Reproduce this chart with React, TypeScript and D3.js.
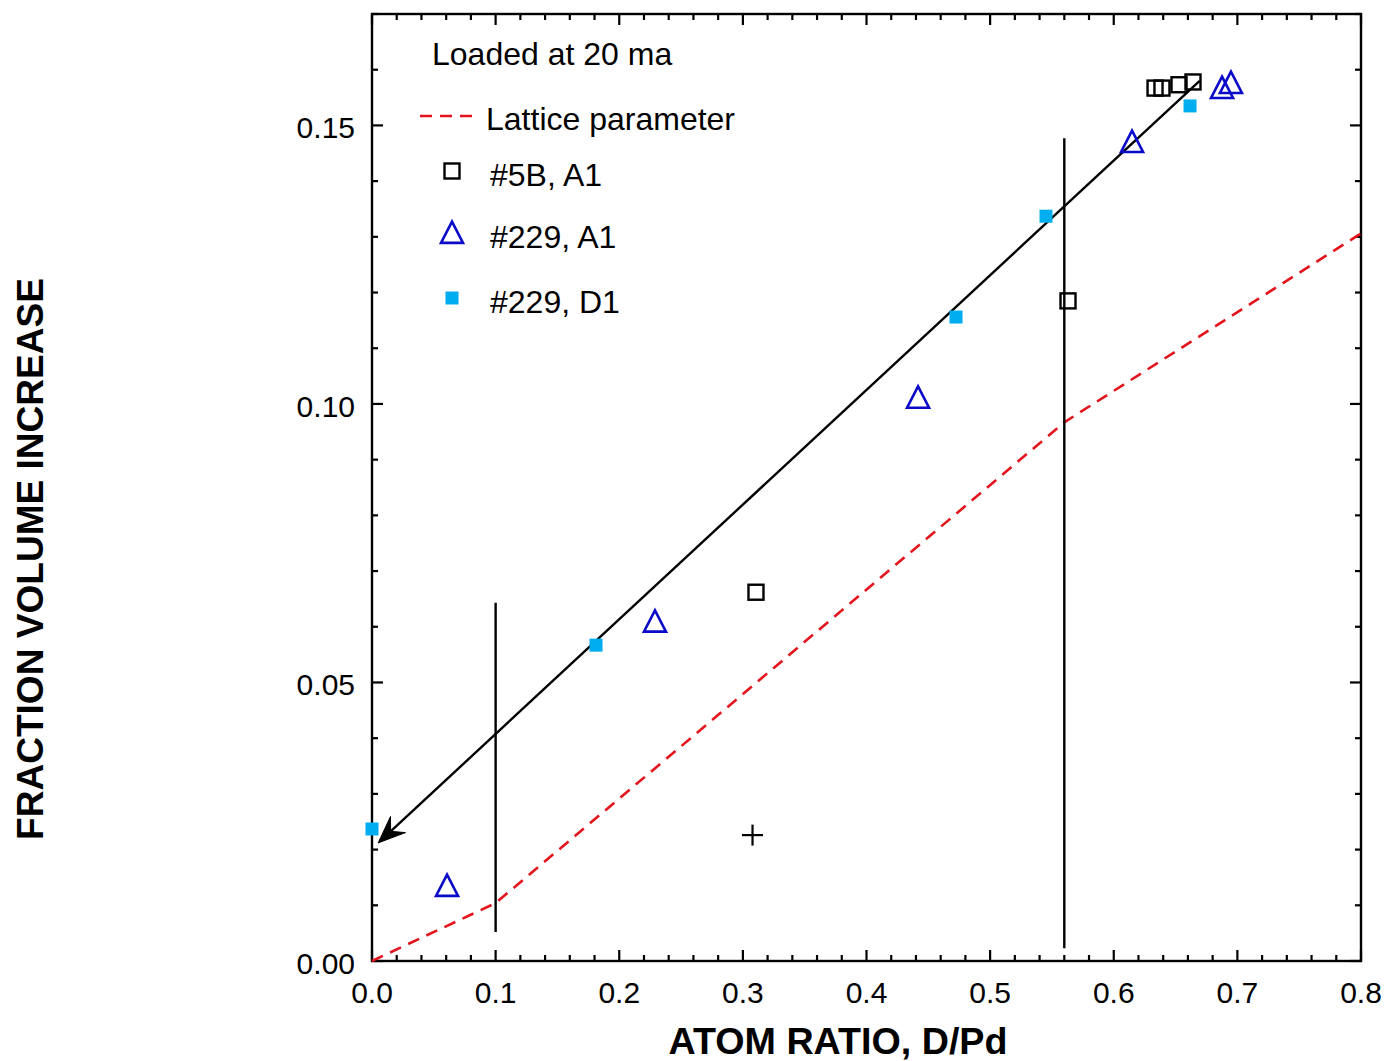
import React from "react";
import * as d3 from "d3";

// ---- data ----
const xTickValues = [0, 0.1, 0.2, 0.3, 0.4, 0.5, 0.6, 0.7, 0.8];
const xTickLabels = ["0.0", "0.1", "0.2", "0.3", "0.4", "0.5", "0.6", "0.7", "0.8"];
const yTickValues = [0, 0.05, 0.1, 0.15];
const yTickLabels = ["0.00", "0.05", "0.10", "0.15"];

const sq5B_x = [0.3106, 0.563, 0.6334, 0.639, 0.6528, 0.6641];
const sq5B_y = [0.0662, 0.1185, 0.1567, 0.1567, 0.1573, 0.1578];

const tri229A1_x = [0.0607, 0.2289, 0.4417, 0.6148, 0.6876, 0.6948];
const tri229A1_y = [0.01346, 0.0609, 0.1011, 0.147, 0.1567, 0.1576];

const cy229D1_x = [0.0, 0.1812, 0.4724, 0.5452, 0.6617];
const cy229D1_y = [0.0237, 0.0567, 0.1156, 0.1337, 0.1535];

const lattice_x = [0, 0.1, 0.56, 0.8];
const lattice_y = [0, 0.0104, 0.0967, 0.1306];

const arrowStart = [0.6695, 0.158];
const arrowTip = [0.005, 0.0212];

const vline_x = [0.1, 0.56];
const vline_y0 = [0.0052, 0.0023];
const vline_y1 = [0.0643, 0.1477];

const plusPoint = [0.3078, 0.0226];

const legendTitle = "Loaded at 20 ma";
const legendLabels = ["Lattice parameter", "#5B, A1", "#229, A1", "#229, D1"];

const FONT = "'Liberation Sans', Arial, Helvetica, sans-serif";
const BLUE = "#0a0ac8";
const CYAN = "#00aeef";
const RED = "#e3141c";

export default function App() {
  const W = 1389;
  const H = 1061;
  const x = d3.scaleLinear().domain([0, 0.8]).range([372, 1361]);
  const y = d3.scaleLinear().domain([0, 0.17]).range([961, 14]);

  const xMinor = d3.range(0, 0.8001, 0.02);
  const yMinor = d3.range(0, 0.1701, 0.01);

  const line = d3
    .line<number>()
    .x((_, i) => x(lattice_x[i]))
    .y((_, i) => y(lattice_y[i]));

  const triPath = (cx: number, cy: number, s: number) => {
    const hw = s / 2;
    return `M${cx},${cy - s * 0.52}L${cx + hw},${cy + s * 0.45}L${cx - hw},${cy + s * 0.45}Z`;
  };

  // arrow
  const sx = x(arrowStart[0]);
  const sy = y(arrowStart[1]);
  const tx = x(arrowTip[0]);
  const ty = y(arrowTip[1]);
  const dx = tx - sx;
  const dy = ty - sy;
  const len = Math.hypot(dx, dy);
  const ux = dx / len;
  const uy = dy / len;
  const nx = -uy;
  const ny = ux;
  const AL = 27;
  const AW = 11;
  const notch = 17;
  const b1 = [tx - AL * ux + AW * nx, ty - AL * uy + AW * ny];
  const b2 = [tx - AL * ux - AW * nx, ty - AL * uy - AW * ny];
  const nb = [tx - notch * ux, ty - notch * uy];
  const arrowHead = `M${tx},${ty}L${b1[0]},${b1[1]}L${nb[0]},${nb[1]}L${b2[0]},${b2[1]}Z`;

  const x0 = 372, x1 = 1361, y0 = 961, y1 = 14;

  return (
    <svg
      width={W}
      height={H}
      style={{ position: "absolute", left: 0, top: 0, background: "#fff" }}
      fontFamily={FONT}
    >
      <rect x={0} y={0} width={W} height={H} fill="#fff" />

      {/* ticks */}
      <g stroke="#000" strokeWidth={2.2}>
        {xMinor.map((v, i) => {
          const major = i % 5 === 0;
          const l = major ? 11 : 6;
          return (
            <g key={"xt" + i}>
              <line x1={x(v)} x2={x(v)} y1={y0} y2={y0 - l} />
              <line x1={x(v)} x2={x(v)} y1={y1} y2={y1 + l} />
            </g>
          );
        })}
        {yMinor.map((v, i) => {
          const major = i % 5 === 0;
          const l = major ? 11 : 6;
          return (
            <g key={"yt" + i}>
              <line x1={x0} x2={x0 + l} y1={y(v)} y2={y(v)} />
              <line x1={x1} x2={x1 - l} y1={y(v)} y2={y(v)} />
            </g>
          );
        })}
      </g>

      {/* frame */}
      <rect x={x0} y={y1} width={x1 - x0} height={y0 - y1} fill="none" stroke="#000" strokeWidth={2.4} />

      {/* tick labels */}
      <g fontSize={30} fill="#000">
        {xTickValues.map((v, i) => (
          <text key={"xl" + i} x={x(v)} y={1003} textAnchor="middle">
            {xTickLabels[i]}
          </text>
        ))}
        {yTickValues.map((v, i) => (
          <text key={"yl" + i} x={355} y={y(v) + 13} textAnchor="end">
            {yTickLabels[i]}
          </text>
        ))}
      </g>

      {/* axis titles */}
      <text
        x={838}
        y={1054}
        textAnchor="middle"
        fontSize={36}
        fontWeight="bold"
        textLength={339}
        lengthAdjust="spacingAndGlyphs"
      >
        ATOM RATIO, D/Pd
      </text>
      <text
        transform={`translate(43,559) rotate(-90)`}
        textAnchor="middle"
        fontSize={37}
        fontWeight="bold"
        textLength={562}
        lengthAdjust="spacingAndGlyphs"
      >
        FRACTION VOLUME INCREASE
      </text>

      {/* lattice parameter dashed line */}
      <path d={line(lattice_x) || ""} fill="none" stroke={RED} strokeWidth={2.6} strokeDasharray="12,8" />

      {/* vertical lines */}
      <g stroke="#000" strokeWidth={2.4}>
        {vline_x.map((v, i) => (
          <line key={"vl" + i} x1={x(v)} x2={x(v)} y1={y(vline_y0[i])} y2={y(vline_y1[i])} />
        ))}
      </g>

      {/* arrow */}
      <line x1={sx} y1={sy} x2={nb[0]} y2={nb[1]} stroke="#000" strokeWidth={2.4} />
      <path d={arrowHead} fill="#000" stroke="#000" strokeWidth={1} strokeLinejoin="miter" />

      {/* plus */}
      <g stroke="#000" strokeWidth={2.2}>
        <line x1={x(plusPoint[0]) - 10.5} x2={x(plusPoint[0]) + 10.5} y1={y(plusPoint[1])} y2={y(plusPoint[1])} />
        <line x1={x(plusPoint[0])} x2={x(plusPoint[0])} y1={y(plusPoint[1]) - 10.5} y2={y(plusPoint[1]) + 10.5} />
      </g>

      {/* #5B squares */}
      <g fill="none" stroke="#000" strokeWidth={2.4}>
        {sq5B_x.map((v, i) => (
          <rect key={"s" + i} x={x(v) - 7.5} y={y(sq5B_y[i]) - 7.5} width={15} height={15} />
        ))}
      </g>

      {/* #229 A1 triangles */}
      <g fill="none" stroke={BLUE} strokeWidth={2.6} strokeLinejoin="miter">
        {tri229A1_x.map((v, i) => (
          <path key={"t" + i} d={triPath(x(v), y(tri229A1_y[i]), 22)} />
        ))}
      </g>

      {/* #229 D1 cyan squares */}
      <g fill={CYAN}>
        {cy229D1_x.map((v, i) => (
          <rect key={"c" + i} x={x(v) - 6.5} y={y(cy229D1_y[i]) - 6.5} width={13} height={13} />
        ))}
      </g>

      {/* legend */}
      <g fontSize={32} fill="#000">
        <text x={432} y={65}>{legendTitle}</text>
        <line x1={420} x2={474} y1={116} y2={116} stroke={RED} strokeWidth={2.6} strokeDasharray="12,8" />
        <text x={486} y={130}>{legendLabels[0]}</text>
        <rect x={444.5} y={163.5} width={15} height={15} fill="none" stroke="#000" strokeWidth={2.4} />
        <text x={490} y={186}>{legendLabels[1]}</text>
        <path d={triPath(452, 233, 22)} fill="none" stroke={BLUE} strokeWidth={2.6} />
        <text x={490} y={248}>{legendLabels[2]}</text>
        <rect x={445.5} y={291.5} width={13} height={13} fill={CYAN} />
        <text x={490} y={313}>{legendLabels[3]}</text>
      </g>
    </svg>
  );
}
